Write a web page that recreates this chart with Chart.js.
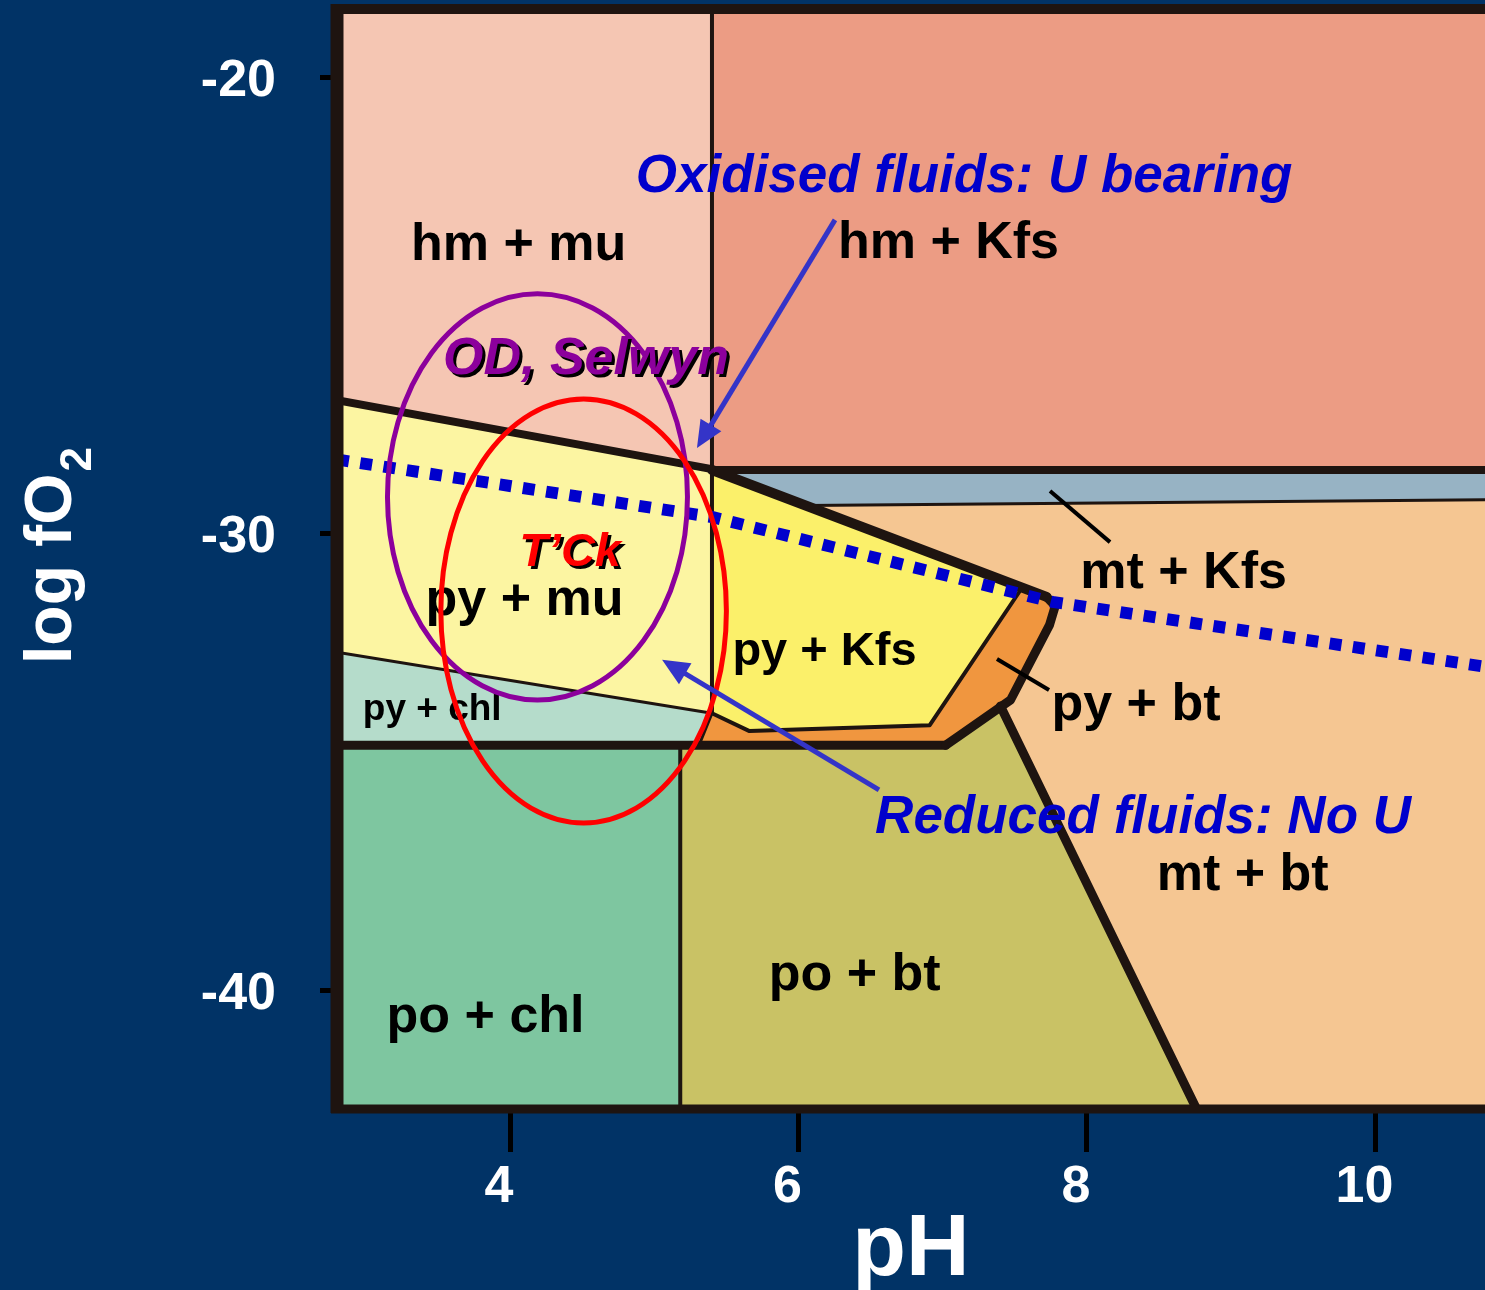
<!DOCTYPE html>
<html>
<head>
<meta charset="utf-8">
<title>log fO2 vs pH</title>
<script src="https://cdn.jsdelivr.net/npm/chart.js@4.4.1/dist/chart.umd.min.js"></script>
<style>
  html, body { margin: 0; padding: 0; background: #013366; }
  canvas { display: block; }
</style>
</head>
<body>
<canvas id="phase-chart" width="1485" height="1290"></canvas>
<script>
// axis ticks
const xTicks = [4, 6, 8, 10];
const yTicks = [-20, -30, -40];

// stability fields, vertices as [pH, log fO2]
const hmMuField  = [[2.8,-18.5],[5.4,-18.5],[5.4,-28.58],[2.8,-27.07]];
const hmKfsField = [[5.4,-18.5],[10.76,-18.5],[10.76,-28.6],[5.4,-28.6]];
const mtKfsField = [[5.4,-28.6],[10.76,-28.6],[10.76,-29.25],[6.05,-29.38]];
const mtBtField  = [[6.05,-29.38],[10.76,-29.25],[10.76,-42.6],[8.76,-42.6],[7.4,-33.77],[7.47,-33.64],[7.74,-32.0],[7.78,-31.58],[7.72,-31.38]];
const pyMuField  = [[2.8,-27.07],[5.4,-28.58],[5.4,-33.93],[2.8,-32.59]];
const pyKfsField = [[5.4,-28.6],[7.55,-31.18],[6.91,-34.19],[5.66,-34.32],[5.4,-33.93]];
const pyBtField  = [[5.4,-33.93],[5.66,-34.32],[6.91,-34.19],[7.55,-31.18],[7.72,-31.38],[7.78,-31.58],[7.74,-32.0],[7.47,-33.64],[7.12,-34.41],[7.02,-34.63],[5.31,-34.63]];
const pyChlField = [[2.8,-32.59],[5.4,-33.93],[5.31,-34.63],[2.8,-34.63]];
const poChlField = [[2.8,-34.63],[5.18,-34.63],[5.18,-42.6],[2.8,-42.6]];
const poBtField  = [[5.18,-34.63],[7.02,-34.63],[7.12,-34.41],[7.4,-33.77],[8.76,-42.6],[5.18,-42.6]];

// field boundaries
const hmPyLine    = [[2.8,-27.07],[5.4,-28.58]];
const hmMtLine    = [[5.4,-28.6],[10.76,-28.6]];
const pyKfsTop    = [[5.4,-28.6],[7.72,-31.38]];
const pyBtOuter   = [[7.72,-31.38],[7.78,-31.58],[7.74,-32.0],[7.47,-33.64],[7.12,-34.41],[7.02,-34.63]];
const pyPoLine    = [[2.8,-34.63],[7.02,-34.63]];
const poMtLine    = [[7.4,-33.77],[8.76,-42.6]];
const muKfsLine   = [[5.4,-18.5],[5.4,-33.93]];
const chlBtLine   = [[5.18,-34.63],[5.18,-42.6]];
const muChlLine   = [[2.8,-32.59],[5.4,-33.93]];
const mtKfsBottom = [[6.05,-29.38],[10.76,-29.25]];
const pyBtInner   = [[7.55,-31.18],[6.91,-34.19],[5.66,-34.32],[5.4,-33.93]];
const chlBtShort  = [[5.4,-33.93],[5.31,-34.63]];

// uranium redox boundary (dotted)
const uRedoxLine = [[2.8,-28.37],[5.4,-29.63],[7.76,-31.49],[10.76,-32.91]];

// deposit fields: centre [pH, log fO2], radii [pH, log fO2]
const odSelwynCentre = [4.19, -29.19];
const odSelwynRadii  = [1.04, 4.45];
const tckCentre = [4.51, -31.69];
const tckRadii  = [0.99, 4.645];

// arrows and leader lines: [from, to]
const oxidisedArrow = [[6.253,-23.12],[5.296,-28.12]];
const reducedArrow  = [[6.558,-35.61],[5.054,-32.76]];
const mtKfsLeader   = [[7.744,-29.06],[8.16,-30.18]];
const pyBtLeader    = [[7.376,-32.74],[7.737,-33.42]];

// labels
const fieldNames = ['hm + mu','hm + Kfs','py + mu','py + Kfs','py + chl','mt + Kfs','py + bt','mt + bt','po + bt','po + chl'];
const fieldLabelAt = [[4.06,-24.0],[7.04,-23.96],[4.10,-31.78],[6.18,-32.87],[3.46,-34.08],[8.67,-31.19],[8.34,-34.08],[9.08,-37.8],[6.39,-39.99],[3.83,-40.91]];
const fieldLabelSize = [52,52,52,47,37,52,52,52,52,52];

const noteTexts = ['Oxidised fluids: U bearing', 'Reduced fluids: No U', 'OD, Selwyn', 'T\u2019Ck'];
const noteAt = [[7.148,-22.51],[8.389,-36.55],[4.527,-26.5],[4.416,-30.7]];

const FONT = '"Liberation Sans", Arial, Helvetica, sans-serif';
Chart.defaults.font.family = FONT;

const xy = pts => pts.map(p => ({x: p[0], y: p[1]}));

const fields = [
  [hmMuField, '#F5C6B3'], [hmKfsField, '#EC9C84'], [mtKfsField, '#97B3C4'],
  [mtBtField, '#F5C692'], [pyMuField, '#FCF5A2'], [pyKfsField, '#FBF06A'],
  [pyBtField, '#F0963F'], [pyChlField, '#B5DCCB'], [poChlField, '#7EC6A0'],
  [poBtField, '#C9C265']
];

const bounds = [
  [hmPyLine, 8], [hmMtLine, 8], [pyKfsTop, 10], [pyBtOuter, 9], [pyPoLine, 9], [poMtLine, 9],
  [muKfsLine, 4], [chlBtLine, 4], [muChlLine, 3], [mtKfsBottom, 3], [pyBtInner, 4], [chlBtShort, 3]
];

const datasets = [];
fields.forEach(f => {
  datasets.push({
    data: xy(f[0].concat([f[0][0]])),
    backgroundColor: f[1], borderColor: f[1], borderWidth: 1.5,
    fill: 'shape', pointRadius: 0, order: 3
  });
});
bounds.forEach(b => {
  datasets.push({
    data: xy(b[0]), borderColor: '#1E1410', borderWidth: b[1],
    borderJoinStyle: 'round', borderCapStyle: 'round',
    fill: false, pointRadius: 0, order: 2
  });
});
datasets.push({
  data: xy(uRedoxLine), borderColor: '#0000CC', borderWidth: 12,
  borderDash: [12, 11.5], borderCapStyle: 'butt',
  fill: false, pointRadius: 0, order: 1
});

function arrow(ctx, x0, y0, x1, y1, color, width, head) {
  const a = Math.atan2(y1 - y0, x1 - x0);
  const c = Math.cos(a), s = Math.sin(a);
  ctx.strokeStyle = color;
  ctx.fillStyle = color;
  ctx.lineWidth = width;
  ctx.beginPath();
  ctx.moveTo(x0, y0);
  ctx.lineTo(x1 - c * head * 0.8, y1 - s * head * 0.8);
  ctx.stroke();
  ctx.beginPath();
  ctx.moveTo(x1, y1);
  ctx.lineTo(x1 - head * c + head * 0.45 * s, y1 - head * s - head * 0.45 * c);
  ctx.lineTo(x1 - head * c - head * 0.45 * s, y1 - head * s + head * 0.45 * c);
  ctx.closePath();
  ctx.fill();
}

const overlay = {
  id: 'overlay',
  beforeDraw(chart) {
    const ctx = chart.ctx;
    ctx.save();
    ctx.fillStyle = '#013366';
    ctx.fillRect(0, 0, chart.width, chart.height);
    ctx.restore();
  },
  afterDatasetsDraw(chart) {
    const {ctx, chartArea: ca, scales: {x, y}} = chart;
    const px = v => x.getPixelForValue(v);
    const py = v => y.getPixelForValue(v);
    ctx.save();

    // frame
    ctx.strokeStyle = '#1E1410';
    ctx.lineCap = 'butt';
    ctx.lineWidth = 13;
    ctx.beginPath(); ctx.moveTo(ca.left, ca.top - 5); ctx.lineTo(ca.left, ca.bottom + 4); ctx.stroke();
    ctx.lineWidth = 10;
    ctx.beginPath(); ctx.moveTo(ca.left - 6, ca.top); ctx.lineTo(ca.right, ca.top); ctx.stroke();
    ctx.lineWidth = 9;
    ctx.beginPath(); ctx.moveTo(ca.left - 6, ca.bottom); ctx.lineTo(ca.right, ca.bottom); ctx.stroke();

    // field labels
    ctx.fillStyle = '#000';
    ctx.textAlign = 'center';
    ctx.textBaseline = 'alphabetic';
    fieldNames.forEach((t, i) => {
      ctx.font = 'bold ' + fieldLabelSize[i] + 'px ' + FONT;
      ctx.fillText(t, px(fieldLabelAt[i][0]), py(fieldLabelAt[i][1]));
    });

    // leader lines
    ctx.strokeStyle = '#000';
    ctx.lineWidth = 4;
    [mtKfsLeader, pyBtLeader].forEach(l => {
      ctx.beginPath();
      ctx.moveTo(px(l[0][0]), py(l[0][1]));
      ctx.lineTo(px(l[1][0]), py(l[1][1]));
      ctx.stroke();
    });

    // deposit ellipses
    const ell = (c, r, color) => {
      const cx = px(c[0]), cy = py(c[1]);
      const rx = Math.abs(px(c[0] + r[0]) - cx), ry = Math.abs(py(c[1] + r[1]) - cy);
      ctx.strokeStyle = color;
      ctx.lineWidth = 5;
      ctx.beginPath();
      ctx.ellipse(cx, cy, rx, ry, 0, 0, Math.PI * 2);
      ctx.stroke();
    };
    ell(odSelwynCentre, odSelwynRadii, '#8C009C');
    ell(tckCentre, tckRadii, '#FF0000');

    // arrows
    [oxidisedArrow, reducedArrow].forEach(a => {
      arrow(ctx, px(a[0][0]), py(a[0][1]), px(a[1][0]), py(a[1][1]), '#3434C8', 5, 27);
    });

    // notes
    ctx.font = 'italic bold 53px ' + FONT;
    ctx.fillStyle = '#0000CC';
    ctx.fillText(noteTexts[0], px(noteAt[0][0]), py(noteAt[0][1]));
    ctx.fillText(noteTexts[1], px(noteAt[1][0]), py(noteAt[1][1]));
    const shadowed = (t, p, color, size) => {
      ctx.font = 'italic bold ' + size + 'px ' + FONT;
      ctx.fillStyle = '#000';
      ctx.fillText(t, px(p[0]) + 3, py(p[1]) + 3);
      ctx.fillStyle = color;
      ctx.fillText(t, px(p[0]), py(p[1]));
    };
    shadowed(noteTexts[2], noteAt[2], '#8C009C', 52);
    shadowed(noteTexts[3], noteAt[3], '#FF0000', 47);
    ctx.restore();
  },
  afterDraw(chart) {
    const {ctx, chartArea: ca} = chart;
    ctx.save();
    ctx.translate(ca.left - 266, 664);
    ctx.rotate(-Math.PI / 2);
    ctx.fillStyle = '#fff';
    ctx.textAlign = 'left';
    ctx.textBaseline = 'alphabetic';
    ctx.font = 'bold 66px ' + FONT;
    ctx.fillText('log fO', 0, 0);
    const w = ctx.measureText('log fO').width;
    ctx.font = 'bold 44px ' + FONT;
    ctx.fillText('2', w + 2, 20);
    ctx.restore();
  }
};

new Chart(document.getElementById('phase-chart').getContext('2d'), {
  type: 'line',
  data: { datasets: datasets },
  plugins: [overlay],
  options: {
    responsive: false,
    animation: false,
    events: [],
    layout: { padding: { top: 9, right: 0, bottom: 0, left: 0 } },
    plugins: { legend: { display: false }, tooltip: { enabled: false } },
    elements: { line: { tension: 0 } },
    scales: {
      x: {
        type: 'linear', min: 2.8, max: 10.76,
        afterFit: s => { s.height = 181; s.paddingLeft = 0; s.paddingRight = 0; },
        afterBuildTicks: s => { s.ticks = xTicks.map(v => ({value: v})); },
        grid: { drawOnChartArea: false, tickLength: 43, tickWidth: 5, tickColor: '#000', color: '#000' },
        border: { display: false },
        ticks: { color: '#fff', font: { size: 52, weight: 'bold' }, padding: 4, labelOffset: -11,
                 maxRotation: 0, autoSkip: false, callback: v => String(v) },
        title: { display: true, text: 'pH', color: '#fff', font: { size: 88, weight: 'bold', lineHeight: 0.9 }, padding: 0 }
      },
      y: {
        type: 'linear', min: -42.6, max: -18.5,
        afterFit: s => { s.width = 337; s.paddingTop = 0; s.paddingBottom = 0; },
        afterBuildTicks: s => { s.ticks = yTicks.map(v => ({value: v})); },
        grid: { drawOnChartArea: false, tickLength: 17, tickWidth: 5, tickColor: '#000', color: '#000' },
        border: { display: false },
        ticks: { color: '#fff', font: { size: 52, weight: 'bold' }, padding: 44, labelOffset: 4,
                 autoSkip: false, callback: v => String(v) }
      }
    }
  }
});
</script>
</body>
</html>
